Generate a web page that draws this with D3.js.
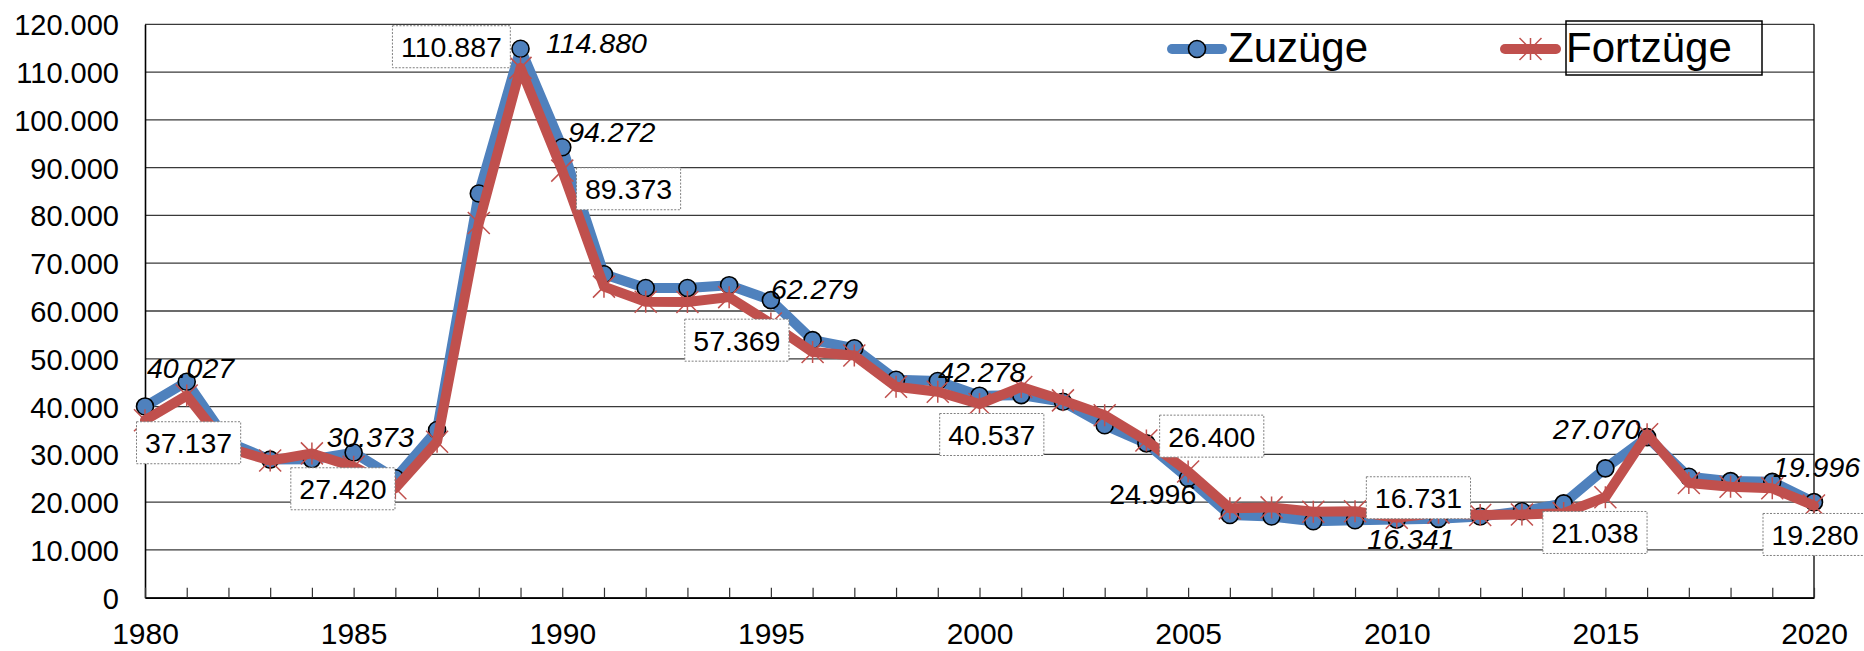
<!DOCTYPE html>
<html>
<head>
<meta charset="utf-8">
<script src="https://cdn.jsdelivr.net/npm/d3@7"></script>
<style>
  body { margin: 0; background: #fff; }
  text { font-family: "Liberation Sans", Arial, sans-serif; fill: #000; }
</style>
</head>
<body>
<div id="chart"></div>
<script>
// years on the x axis
var years = d3.range(1980, 2021);

// Zuzüge (in-migration) per year
var zuzuege = [
  40027, 45200, 32500, 28900, 28950, 30373, 24990, 35100, 84600, 114880,
  94272, 67700, 64800, 64800, 65400, 62279, 53900, 52200, 45600, 45350,
  42278, 42400, 41000, 36100, 32300, 24996, 17300, 17000, 16000, 16200,
  16341, 16500, 17000, 18100, 19750, 27070, 33600, 25300, 24400, 24250,
  19996
];

// Fortzüge (out-migration) per year
var fortzuege = [
  37137, 42300, 31300, 28700, 30200, 27420, 22900, 32650, 78400, 110887,
  89373, 65100, 61950, 61900, 62900, 57369, 51400, 50700, 44150, 43100,
  40537, 44100, 41300, 38200, 32900, 26400, 18700, 18900, 18000, 18100,
  16731, 17800, 17300, 17400, 17700, 21038, 34200, 24000, 23200, 22900,
  19280
];

var seriesNames = ["Zuzüge", "Fortzüge"];
var yTicks = d3.range(0, 120001, 10000);
var xLabelYears = [1980, 1985, 1990, 1995, 2000, 2005, 2010, 2015, 2020];
var labelledYears = [1980, 1985, 1989, 1990, 1995, 2000, 2005, 2010, 2015, 2020];

// where each data label sits relative to its point (dx, dy of text start / baseline)
var zuLabelOffset = {
  1980: [2, -28.5], 1985: [-27, -5.3], 1989: [25.4, 3.9], 1990: [6, -5.6],
  1995: [0, -0.8], 2000: [-41.3, -14], 2005: [-79, 25.7], 2010: [-29.4, 29.7],
  2015: [-52.3, -29.1], 2020: [-41, -25.5]
};
var foLabelOffset = {
  1980: [0, 33], 1985: [-54.3, 32.6], 1989: [-119.6, -10.6], 1990: [22.7, 28.6],
  1995: [-77.6, 27.1], 2000: [-31.3, 41], 2005: [-20, -24.9], 2010: [-21.9, -9.5],
  2015: [-54, 45.8], 2020: [-42.5, 39.4]
};

var svgWidth = 1864;
var svgHeight = 651;

var margin = {
  top: 24.3,
  right: 50,
  bottom: 53.3,
  left: 145,
};

var width = svgWidth - margin.left - margin.right;
var height = svgHeight - margin.top - margin.bottom;

var blue = "#4F81BD";
var red = "#C0504D";

var de = d3.formatLocale({ decimal: ",", thousands: ".", grouping: [3], currency: ["", "€"] });
var fmt = de.format(",");

var svg = d3
  .select("#chart")
  .append("svg")
  .attr("width", svgWidth)
  .attr("height", svgHeight);

var chartGroup = svg
  .append("g")
  .attr("transform", `translate(${margin.left}, ${margin.top})`);

var xScale = d3.scaleLinear().domain([1980, 2020]).range([0, width]);
var yScale = d3.scaleLinear().domain([0, 120000]).range([height, 0]);

// horizontal gridlines
chartGroup
  .append("g")
  .selectAll("line")
  .data(yTicks)
  .enter()
  .append("line")
  .attr("x1", 0)
  .attr("x2", width)
  .attr("y1", (d) => yScale(d))
  .attr("y2", (d) => yScale(d))
  .attr("stroke", "#3a3a3a")
  .attr("stroke-width", 1.3);

// right border
chartGroup
  .append("line")
  .attr("x1", width)
  .attr("x2", width)
  .attr("y1", 0)
  .attr("y2", height)
  .attr("stroke", "#000")
  .attr("stroke-width", 1.3);

// y axis
var leftAxis = d3
  .axisLeft(yScale)
  .tickValues(yTicks)
  .tickSize(0)
  .tickPadding(26)
  .tickFormat(fmt);

var yAxis = chartGroup.append("g").call(leftAxis);
yAxis.select(".domain").attr("stroke", "#000").attr("stroke-width", 1.6);
yAxis
  .selectAll("text")
  .style("font-size", "29px")
  .attr("dy", "0.36em");

// x axis: ticks every year pointing into the plot, labels every 5 years
var bottomAxis = d3
  .axisBottom(xScale)
  .tickValues(years)
  .tickSizeInner(-10)
  .tickSizeOuter(0)
  .tickFormat((d) => (xLabelYears.indexOf(d) >= 0 ? d : ""));

var xAxis = chartGroup
  .append("g")
  .attr("transform", `translate(0, ${height})`)
  .call(bottomAxis);
xAxis.select(".domain").attr("stroke", "#000").attr("stroke-width", 1.6);
xAxis.selectAll(".tick line").attr("stroke", "#333").attr("stroke-width", 1.2);
xAxis
  .selectAll("text")
  .attr("y", 46)
  .attr("dy", 0)
  .style("font-size", "30px");

var lineGen = d3
  .line()
  .x((d) => xScale(d[0]))
  .y((d) => yScale(d[1]));

var zuData = years.map((yr, i) => [yr, zuzuege[i]]);
var foData = years.map((yr, i) => [yr, fortzuege[i]]);

var starPath = "M0,-11V11M-11,-11L11,11M-11,11L11,-11";

// Zuzüge line + circle markers
chartGroup
  .append("path")
  .datum(zuData)
  .attr("d", lineGen)
  .attr("fill", "none")
  .attr("stroke", blue)
  .attr("stroke-width", 10)
  .attr("stroke-linejoin", "round")
  .attr("stroke-linecap", "round");

chartGroup
  .append("g")
  .selectAll("circle")
  .data(zuData)
  .enter()
  .append("circle")
  .attr("cx", (d) => xScale(d[0]))
  .attr("cy", (d) => yScale(d[1]))
  .attr("r", 8.5)
  .attr("fill", blue)
  .attr("stroke", "#000")
  .attr("stroke-width", 1.6);

// Fortzüge line + star markers
chartGroup
  .append("path")
  .datum(foData)
  .attr("d", lineGen)
  .attr("fill", "none")
  .attr("stroke", red)
  .attr("stroke-width", 10)
  .attr("stroke-linejoin", "round")
  .attr("stroke-linecap", "round");

chartGroup
  .append("g")
  .selectAll("path")
  .data(foData)
  .enter()
  .append("path")
  .attr("transform", (d) => `translate(${xScale(d[0])}, ${yScale(d[1])})`)
  .attr("d", starPath)
  .attr("stroke", red)
  .attr("stroke-width", 1.5)
  .attr("fill", "none");

// data labels for Zuzüge (italic, no box)
var zuLabels = zuData.filter((d) => labelledYears.indexOf(d[0]) >= 0);
chartGroup
  .append("g")
  .selectAll("text")
  .data(zuLabels)
  .enter()
  .append("text")
  .attr("x", (d) => xScale(d[0]) + zuLabelOffset[d[0]][0])
  .attr("y", (d) => yScale(d[1]) + zuLabelOffset[d[0]][1])
  .style("font-size", "28.5px")
  .style("font-style", (d) => (d[0] === 2005 ? "normal" : "italic"))
  .text((d) => fmt(d[1]));

// data labels for Fortzüge (upright, dotted box)
var foLabels = foData.filter((d) => labelledYears.indexOf(d[0]) >= 0);
var foLabelGroup = chartGroup
  .append("g")
  .selectAll("g")
  .data(foLabels)
  .enter()
  .append("g")
  .attr(
    "transform",
    (d) =>
      `translate(${xScale(d[0]) + foLabelOffset[d[0]][0]}, ${yScale(d[1]) + foLabelOffset[d[0]][1]})`
  );

foLabelGroup
  .append("rect")
  .attr("fill", "#fff")
  .attr("stroke", "#7f7f7f")
  .attr("stroke-width", 1)
  .attr("stroke-dasharray", "2,1.5");

foLabelGroup
  .append("text")
  .attr("x", 0)
  .attr("y", 0)
  .style("font-size", "28.5px")
  .text((d) => fmt(d[1]));

foLabelGroup.each(function () {
  var g = d3.select(this);
  var w = g.select("text").node().getComputedTextLength();
  g.select("rect")
    .attr("x", -8.5)
    .attr("y", -31.5)
    .attr("width", w + 17)
    .attr("height", 42);
});

// legend
var legend = svg.append("g");

legend
  .append("line")
  .attr("x1", 1172)
  .attr("x2", 1222)
  .attr("y1", 49)
  .attr("y2", 49)
  .attr("stroke", blue)
  .attr("stroke-width", 10)
  .attr("stroke-linecap", "round");
legend
  .append("circle")
  .attr("cx", 1197)
  .attr("cy", 49)
  .attr("r", 8.5)
  .attr("fill", blue)
  .attr("stroke", "#000")
  .attr("stroke-width", 1.6);
legend
  .append("text")
  .attr("x", 1228)
  .attr("y", 62)
  .style("font-size", "42px")
  .text(seriesNames[0]);

legend
  .append("line")
  .attr("x1", 1505)
  .attr("x2", 1556)
  .attr("y1", 49)
  .attr("y2", 49)
  .attr("stroke", red)
  .attr("stroke-width", 10)
  .attr("stroke-linecap", "round");
legend
  .append("path")
  .attr("transform", "translate(1530.5, 49)")
  .attr("d", starPath)
  .attr("stroke", red)
  .attr("stroke-width", 1.5)
  .attr("fill", "none");
legend
  .append("rect")
  .attr("x", 1566)
  .attr("y", 21)
  .attr("width", 196)
  .attr("height", 54)
  .attr("fill", "none")
  .attr("stroke", "#000")
  .attr("stroke-width", 1.5);
legend
  .append("text")
  .attr("x", 1566)
  .attr("y", 62)
  .style("font-size", "42px")
  .text(seriesNames[1]);
</script>
</body>
</html>
